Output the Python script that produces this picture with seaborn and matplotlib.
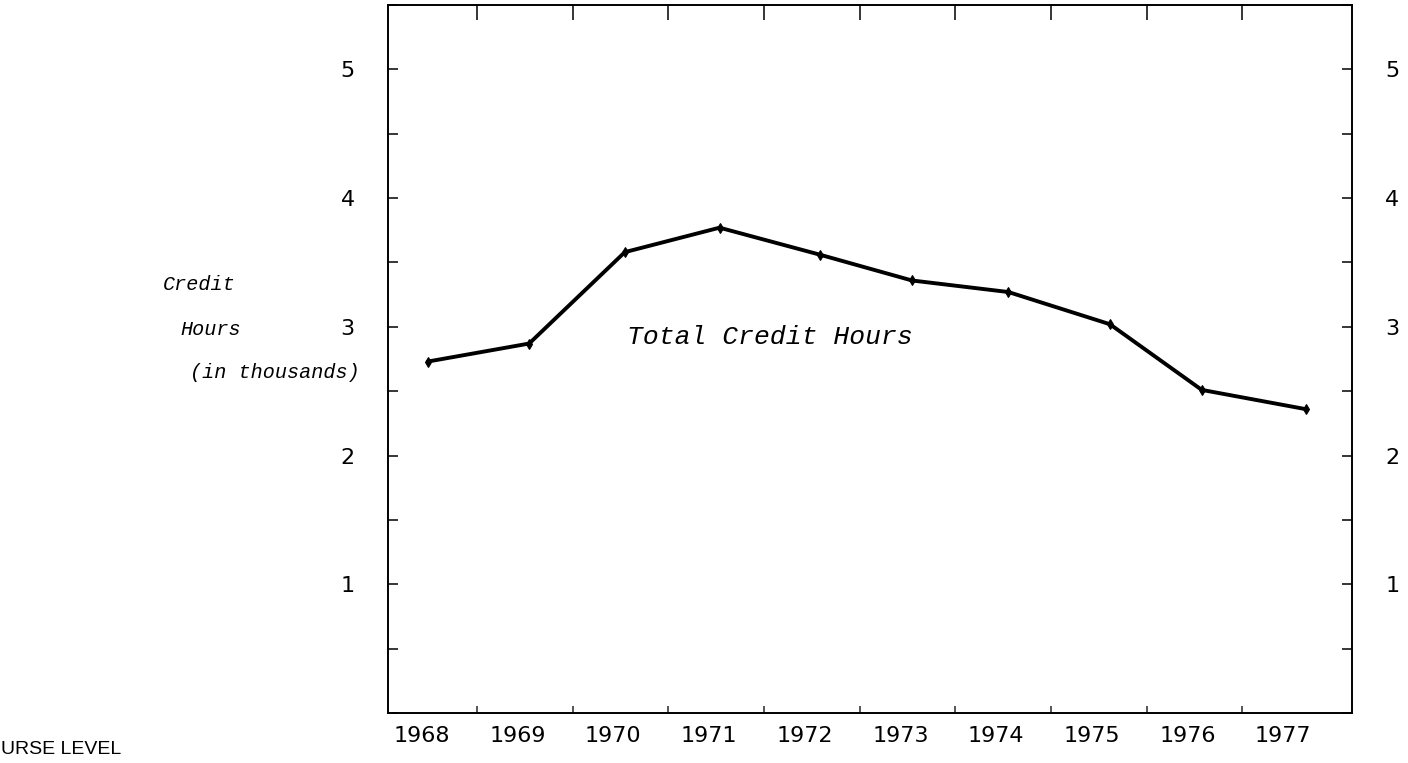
import pandas as pd
import seaborn as sns
import matplotlib.pyplot as plt
from matplotlib.ticker import MultipleLocator, FixedLocator

# Data (credit hours in thousands)
years = [1968, 1969, 1970, 1971, 1972, 1973, 1974, 1975, 1976, 1977]
# points sit slightly right of each year label in the original
point_x = [1968.06, 1969.12, 1970.12, 1971.11, 1972.16, 1973.12, 1974.13, 1975.19, 1976.15, 1977.24]
credit_hours = [2.73, 2.87, 3.58, 3.77, 3.56, 3.36, 3.27, 3.02, 2.51, 2.36]
year_bounds = [1968.575, 1969.575, 1970.575, 1971.575, 1972.575,
               1973.575, 1974.575, 1975.575, 1976.575]
y_major = [1, 2, 3, 4, 5]

sns.set_theme(style="ticks")
plt.rcParams['font.family'] = ['DejaVu Sans']

df = pd.DataFrame({"year": point_x, "hours": credit_hours})

fig = plt.figure(figsize=(14.08, 7.63), dpi=100)
ax = fig.add_axes([0.2756, 0.0655, 0.6846, 0.928])

sns.lineplot(data=df, x="year", y="hours", color="black", linewidth=2.8,
             marker="d", markersize=5, markeredgecolor="black", ax=ax)

ax.set_xlim(1967.645, 1977.72)
ax.set_ylim(0, 5.5)
ax.set_xlabel("")
ax.set_ylabel("")

for sp in ax.spines.values():
    sp.set_visible(True)
    sp.set_color("black")
    sp.set_linewidth(1.4)

# x axis: year labels without ticks, small boundary ticks inside
ax.xaxis.set_major_locator(FixedLocator(years))
ax.set_xticklabels([str(y) for y in years])
ax.xaxis.set_minor_locator(FixedLocator(year_bounds))
ax.tick_params(axis="x", which="major", length=0, pad=9, labelsize=16, colors="black")
ax.tick_params(axis="x", which="minor", direction="in", length=5, width=1.1, bottom=True, top=False)

top = ax.secondary_xaxis("top")
top.xaxis.set_major_locator(FixedLocator(year_bounds))
top.tick_params(direction="in", length=11, width=1.3, labeltop=False)
top.spines["top"].set_visible(False)

# y axis: labels on both sides, ticks every half unit
ax.yaxis.set_major_locator(FixedLocator(y_major))
ax.yaxis.set_minor_locator(MultipleLocator(0.5))
ax.tick_params(axis="y", which="both", direction="in", length=7, width=1.1,
               left=True, right=True, labelleft=True, labelright=True,
               labelsize=16, pad=24, colors="black")

ax.text(1970.14, 2.92, "Total Credit Hours", family="Liberation Mono", style="italic",
        fontsize=19, va="center", ha="left", color="black")

label_font = dict(family="Liberation Mono", style="italic", fontsize=14.5, color="black", va="center")
fig.text(163 / 1408, 1 - 285 / 763, "Credit", **label_font)
fig.text(180 / 1408, 1 - 329 / 763, "Hours", **label_font)
fig.text(190 / 1408, 1 - 372 / 763, "(in thousands)", **label_font)

fig.text(0.001, 1 - 741 / 763, "URSE LEVEL", family="Liberation Sans", fontsize=14,
         va="top", ha="left", color="black")

plt.savefig("out.png", dpi=100)
